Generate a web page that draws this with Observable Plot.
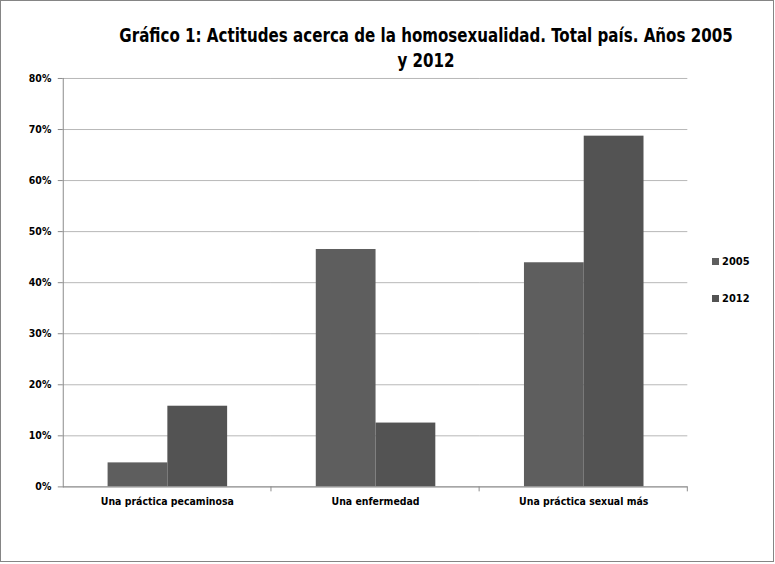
<!DOCTYPE html>
<html>
<head>
<meta charset="utf-8">
<script src="https://cdn.jsdelivr.net/npm/d3@7"></script>
<script src="https://cdn.jsdelivr.net/npm/@observablehq/plot@0.6"></script>
<style>
  html, body { margin: 0; padding: 0; background: #fff; }
  #frame { position: relative; width: 772px; height: 560px; border: 1.5px solid #858585; overflow: hidden; background: #fff;
    font-family: "DejaVu Sans Condensed", "Liberation Sans", sans-serif; }
  #title { position: absolute; left: 425px; top: 22px; white-space: nowrap; text-align: center; font-weight: bold; font-size: 19.5px; line-height: 25px; color: #000;
    transform: translateX(-50%) scaleX(0.86); transform-origin: center top; }
  #chart { position: absolute; left: 0; top: 70px; }
  #legend { position: absolute; left: 711px; top: 252px; font-weight: bold; font-size: 11px; color: #000; }
  .item { display: flex; align-items: center; height: 16px; margin-bottom: 21px; }
  .sw { width: 7px; height: 7px; margin-right: 3px; }
</style>
</head>
<body>
<div id="frame">
  <div id="title">Gráfico 1: Actitudes acerca de la homosexualidad. Total país. Años 2005<br>y 2012</div>
  <div id="chart"></div>
  <div id="legend"></div>
</div>
<script>
const categories = ["Una práctica pecaminosa", "Una enfermedad", "Una práctica sexual más"];
const years = ["2005", "2012"];
const values2005 = [0.047, 0.465, 0.439];
const values2012 = [0.158, 0.125, 0.687];
const yTicks = [0, 0.1, 0.2, 0.3, 0.4, 0.5, 0.6, 0.7, 0.8];
const colors = ["#5e5e5e", "#535353"];

const data = [];
categories.forEach((c, i) => {
  data.push({category: c, year: years[0], value: values2005[i]});
  data.push({category: c, year: years[1], value: values2012[i]});
});

const plot = Plot.plot({
  width: 775,
  height: 494,
  marginTop: 7,
  marginBottom: 77,
  marginLeft: 62,
  marginRight: 86,
  style: {fontFamily: '"DejaVu Sans Condensed", sans-serif', fontSize: "10.5px", fontWeight: "bold", color: "#000", background: "transparent"},
  fx: {domain: categories, paddingInner: 0, paddingOuter: 0, label: null},
  x: {domain: years, paddingInner: 0, paddingOuter: 0.74, axis: null},
  y: {domain: [0, 0.8], ticks: yTicks, tickFormat: d => Math.round(d * 100) + "%", label: null},
  color: {domain: years, range: colors},
  marks: [
    Plot.gridY(yTicks, {stroke: "#b8b8b8", strokeOpacity: 1, strokeWidth: 1}),
    Plot.barY(data, {fx: "category", x: "year", y: "value", fill: "year"}),
    Plot.ruleY([0], {stroke: "#8c8c8c"}),
    Plot.frame({anchor: "left", stroke: "#8c8c8c", facetAnchor: "left"}),
    Plot.axisY(yTicks, {tickSize: 5, tickPadding: 7, stroke: "#8c8c8c", fill: "#000", tickFormat: d => Math.round(d * 100) + "%"}),
    Plot.axisFx({anchor: "bottom", tickSize: 0, tickPadding: 11, label: null, fill: "#000"})
  ]
});

// Excel-style category boundary ticks, positioned from Plot's own fx scale
const fx = plot.scale("fx");
const yScale = plot.scale("y");
const y0 = yScale.apply(0);
const svg = d3.select(plot);
categories.forEach(c => {
  const xb = fx.apply(c) + fx.bandwidth;
  svg.append("line")
    .attr("x1", xb).attr("x2", xb)
    .attr("y1", y0).attr("y2", y0 + 5)
    .attr("stroke", "#8c8c8c");
});

document.getElementById("chart").appendChild(plot);

const legend = document.getElementById("legend");
years.forEach((yr, i) => {
  const item = document.createElement("div");
  item.className = "item";
  const sw = document.createElement("span");
  sw.className = "sw";
  sw.style.background = colors[i];
  const t = document.createElement("span");
  t.textContent = yr;
  item.appendChild(sw);
  item.appendChild(t);
  legend.appendChild(item);
});
</script>
</body>
</html>
